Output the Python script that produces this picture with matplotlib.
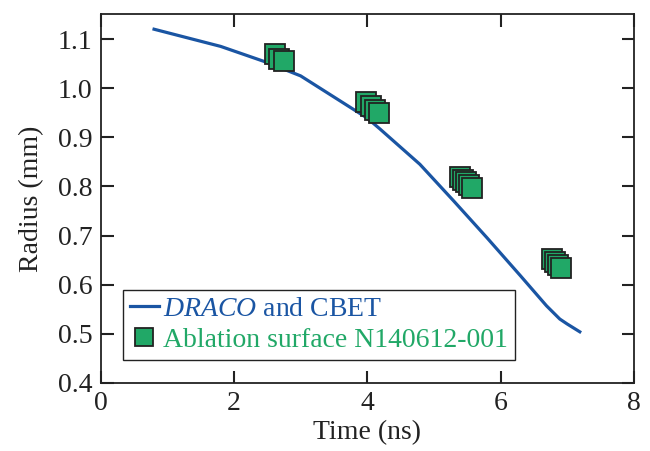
import numpy as np
import matplotlib
matplotlib.use('Agg')
import matplotlib.pyplot as plt

plt.rcParams['font.family'] = 'Liberation Serif'
plt.rcParams['mathtext.fontset'] = 'custom'
plt.rcParams['mathtext.it'] = 'Liberation Serif:italic'
plt.rcParams['mathtext.rm'] = 'Liberation Serif'

# DRACO and CBET simulation curve
sim_t = [0.80, 1.8, 2.46, 3.0, 3.5, 4.0, 4.19, 4.79, 5.3, 5.8, 6.3, 6.69, 6.89, 7.0, 7.19]
sim_r = [1.120, 1.085, 1.054, 1.025, 0.982, 0.939, 0.917, 0.845, 0.770, 0.695, 0.618, 0.557, 0.530, 0.520, 0.504]

# Ablation surface N140612-001 (stacked frames)
abl_t = [2.61, 2.68, 2.75,
         3.98, 4.05, 4.11, 4.18,
         5.39, 5.43, 5.48, 5.52, 5.57,
         6.77, 6.82, 6.86, 6.91]
abl_r = [1.070, 1.060, 1.056,
         0.971, 0.964, 0.956, 0.949,
         0.820, 0.814, 0.808, 0.803, 0.797,
         0.652, 0.646, 0.640, 0.634]

blue = '#1a55a3'
green = '#21a867'
dark = '#222222'
fs = 20

fig = plt.figure(figsize=(6.5, 4.51), dpi=100)
ax = fig.add_axes([0.155, 0.151, 0.82, 0.818])

ax.plot(sim_t, sim_r, color=blue, lw=2.3, label=r'$\mathit{DRACO}$ and CBET', zorder=2)
for i, (t, r) in enumerate(zip(abl_t, abl_r)):
    ax.plot(t, r, 's', ms=14.5, mfc=green, mec=dark, mew=1.3, zorder=3 + i,
            label='Ablation surface N140612-001' if i == 0 else None)

ax.set_xlim(0, 8)
ax.set_ylim(0.4, 1.151)
ax.set_xticks([0, 2, 4, 6, 8])
ax.set_yticks(np.arange(0.4, 1.11, 0.1))
ax.set_yticklabels(['0.4', '0.5', '0.6', '0.7', '0.8', '0.9', '1.0', '1.1'])
ax.tick_params(direction='in', length=9, width=1.5, top=True, right=True,
               labelsize=fs, pad=6, colors=dark)
for s in ax.spines.values():
    s.set_linewidth(1.3)
    s.set_color(dark)

ax.set_xlabel('Time (ns)', fontsize=fs, color=dark, labelpad=3)
ax.set_ylabel('Radius (mm)', fontsize=fs, color=dark, labelpad=10)

leg = ax.legend(loc='lower left', bbox_to_anchor=(0.041, 0.062), borderaxespad=0,
                fontsize=fs, fancybox=False, framealpha=1, edgecolor=dark,
                handlelength=1.05, handletextpad=0.15, borderpad=0.25,
                labelspacing=0.2, markerscale=0.85)
leg.get_frame().set_linewidth(1.0)
leg.get_texts()[0].set_color(blue)
leg.get_texts()[1].set_color(green)

fig.savefig('out.png', dpi=100)
